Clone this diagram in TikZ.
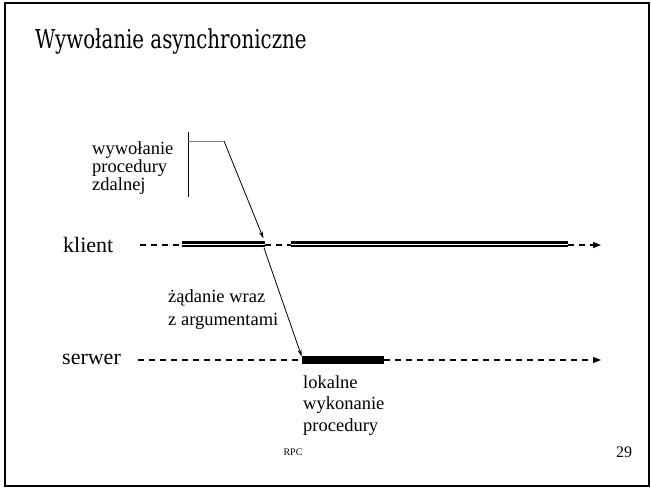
\documentclass[tikz,border=0pt]{standalone}
\usepackage{fontspec}
\setmainfont{Liberation Serif}
\newfontfamily\titlefont{DejaVu Serif}
\usetikzlibrary{arrows.meta}
\begin{document}
\begin{tikzpicture}[x=1pt,y=-1pt,
  lbl/.style={anchor=base west,inner sep=0pt,font=\fontsize{18.5}{18.5}\selectfont},
  big/.style={anchor=base west,inner sep=0pt,font=\fontsize{22}{22}\selectfont},
  dashline/.style={line width=1.3pt,dash pattern=on 6pt off 5pt},
  dbl/.style={line width=6pt},
  msg/.style={line width=0.8pt,-{Stealth[length=7pt,width=4pt]}},
  tip/.style={-{Triangle[length=8pt,width=6pt]}}
]
\useasboundingbox (0,0) rectangle (651,488);
\draw[line width=2pt] (5,3) rectangle (649,486);
\node[anchor=base west,inner sep=0pt,font=\titlefont\fontsize{20}{20}\selectfont] (title) at (35,48) {\scalebox{0.99}[1.3]{Wywołanie asynchroniczne}};
% call label
\node[lbl] (w1) at (92,154) {wywołanie};
\node[lbl] (w2) at (92,172) {procedury};
\node[lbl] (w3) at (92,190) {zdalnej};
\coordinate (vt) at (188,132);
\coordinate (vb) at (188,197);
\coordinate (hc) at (188,141);
\coordinate (hr) at (224,141);
\draw[line width=0.9pt] (vt) -- (vb);
\draw[line width=0.9pt,gray] (hc) -- (hr);
% klient
\node[big] (kl) at (63,252) {klient};
\coordinate (k0) at (140,245);
\coordinate (k1) at (182,245);
\coordinate (k2) at (265,245);
\coordinate (k3) at (291,245);
\coordinate (k4) at (568,245);
\coordinate (k5) at (601,245);
\draw[dashline] (k0) -- (k1);
\draw[dashline] (k2) -- (k3);
\draw[dashline,tip] (k4) -- (k5);
\draw[dbl] ([yshift=1.3pt]k1) -- ([yshift=1.3pt]k2);
\draw[dbl] ([yshift=1.3pt]k3) -- ([yshift=1.3pt]k4);
\draw[white,line width=1pt] ([yshift=0.2pt]k1) -- ([yshift=0.2pt]k2);
\draw[white,line width=1pt] ([yshift=0.2pt]k3) -- ([yshift=0.2pt]k4);
\coordinate (ktip) at (263.5,238.5);
\draw[msg] (hr) -- (ktip);
% request
\node[lbl] (r1) at (168,302) {żądanie wraz};
\node[lbl] (r2) at (168,325) {z argumentami};
\coordinate (kfrom) at (264,248);
% serwer
\node[big] (sv) at (62,364) {serwer};
\coordinate (s0) at (138,360);
\coordinate (s1) at (302,360);
\coordinate (s2) at (384,360);
\coordinate (s3) at (601,360);
\draw[dashline] (s0) -- (s1);
\draw[dashline,tip] (s2) -- (s3);
\draw[line width=8pt] (s1) -- (s2);
\coordinate (stip) at (301.7,356.5);
\draw[msg] (kfrom) -- (stip);
% local execution
\node[lbl] (l1) at (303,388) {lokalne};
\node[lbl] (l2) at (303,409) {wykonanie};
\node[lbl] (l3) at (303,431) {procedury};
% footer
\node[anchor=base,inner sep=0pt,font=\fontsize{10}{10}\selectfont] (rpc) at (293,455) {RPC};
\node[anchor=base west,inner sep=0pt,font=\fontsize{16}{16}\selectfont] (num) at (616,457) {29};
\end{tikzpicture}
\end{document}
